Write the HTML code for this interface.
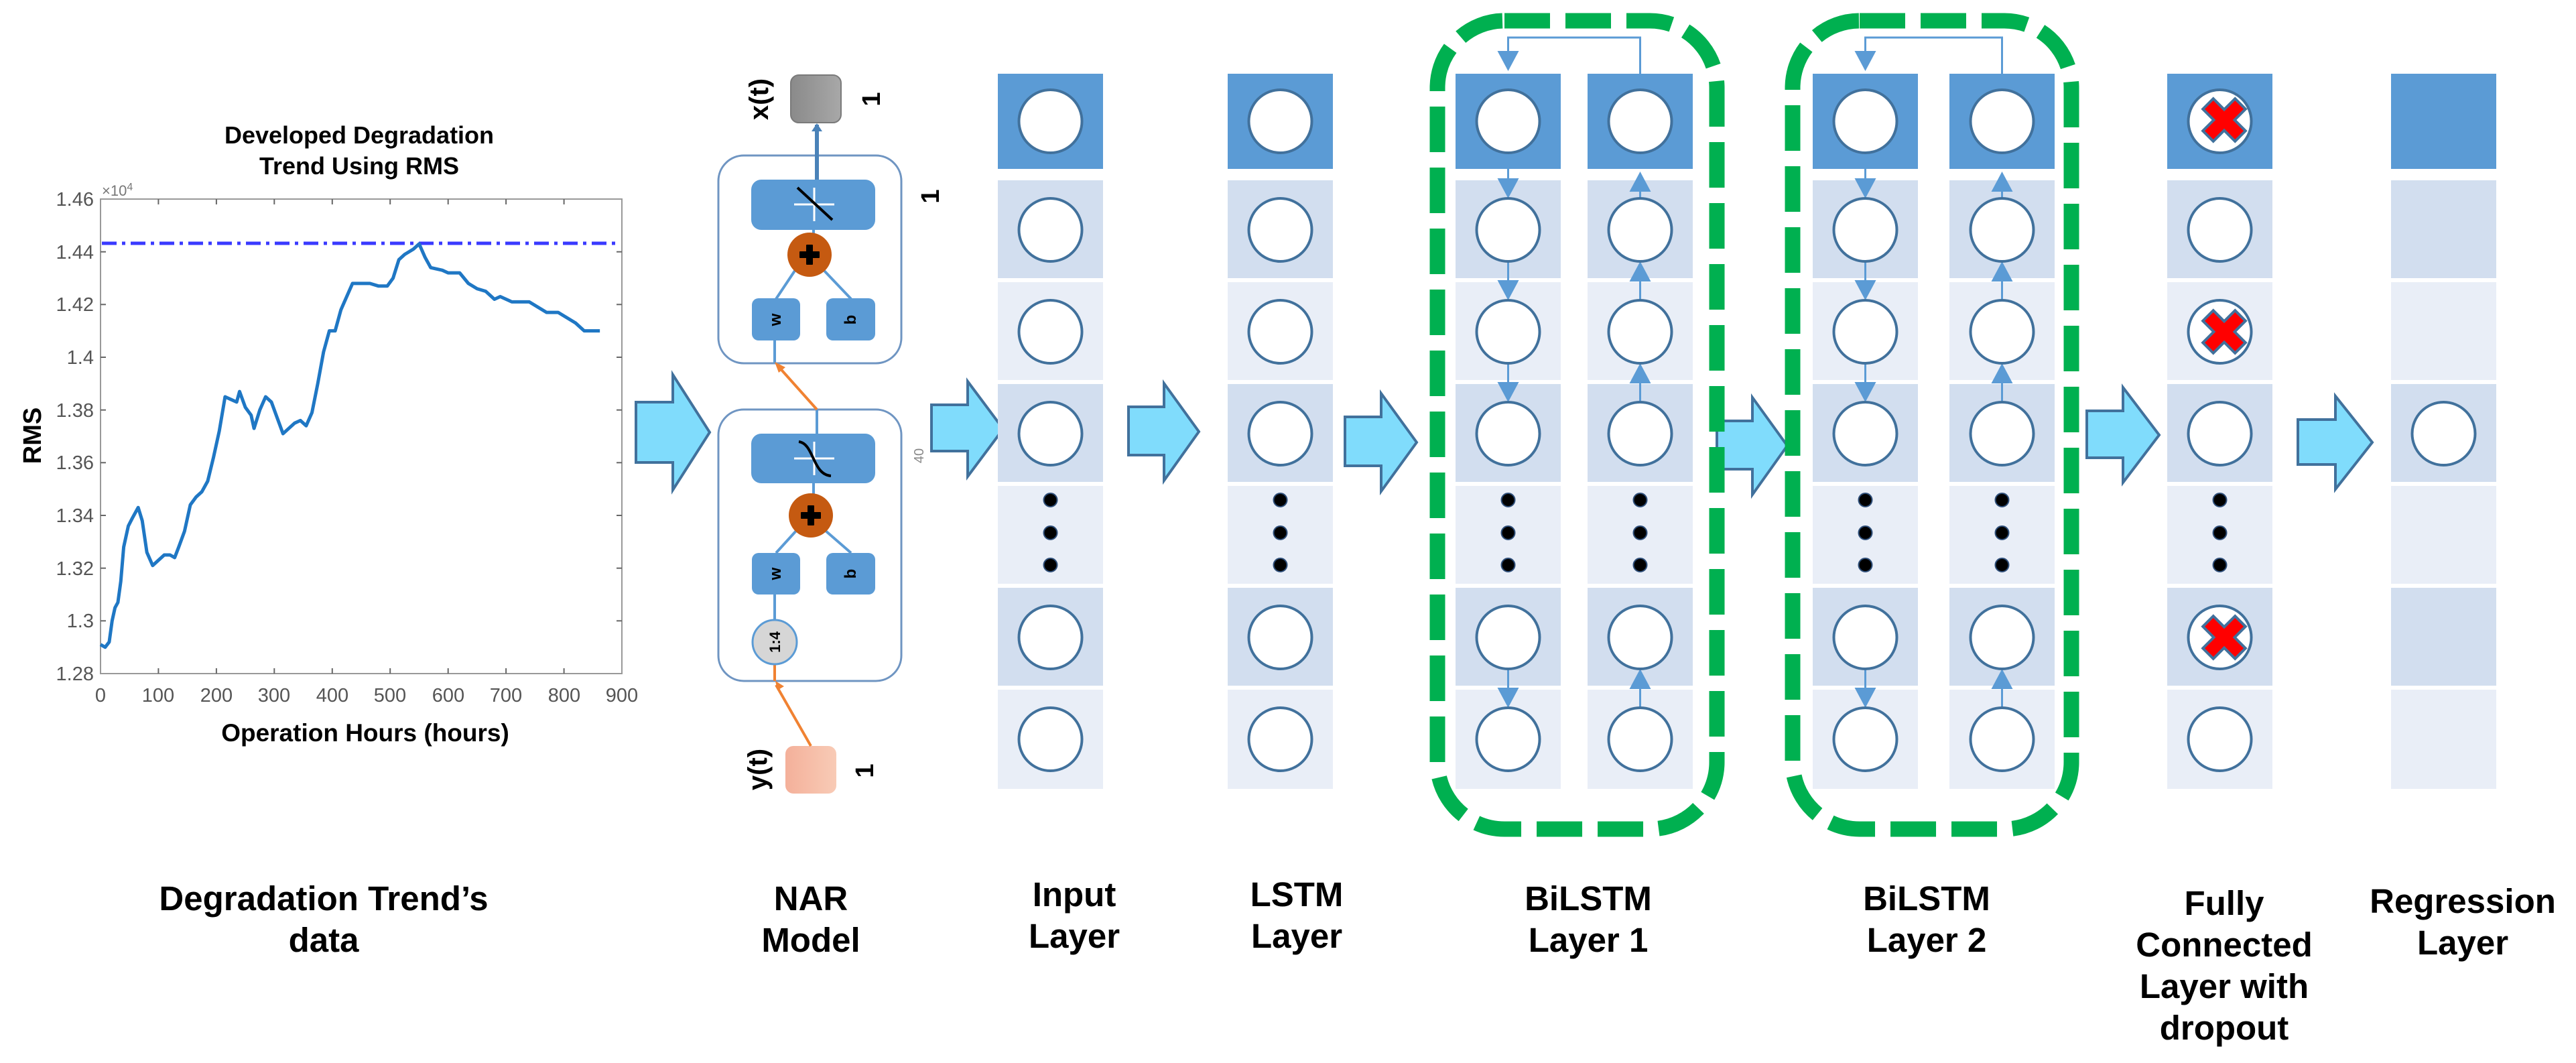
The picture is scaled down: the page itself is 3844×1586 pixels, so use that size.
<!DOCTYPE html>
<html><head><meta charset="utf-8"><style>
html,body{margin:0;padding:0;background:#fff;}
svg{display:block;}
text{font-family:"Liberation Sans",Arial,sans-serif;}
.lb{font-weight:bold;font-size:51px;fill:#000;text-anchor:middle;}
.tk{font-size:29px;fill:#555;}
</style></head><body>
<svg width="3844" height="1586" viewBox="0 0 3844 1586" xmlns="http://www.w3.org/2000/svg">
<defs>
<linearGradient id="gx" x1="0" x2="1"><stop offset="0" stop-color="#8a8a8a"/><stop offset="1" stop-color="#a8a8a8"/></linearGradient>
<linearGradient id="gy" x1="0" x2="1"><stop offset="0" stop-color="#f4b09a"/><stop offset="1" stop-color="#f8cbb6"/></linearGradient>
<g id="col">
<rect x="0" y="110" width="157" height="142" fill="#5b9bd5"/>
<rect x="0" y="269" width="157" height="146" fill="#d2deef"/>
<rect x="0" y="421" width="157" height="146" fill="#e9eef7"/>
<rect x="0" y="573" width="157" height="146" fill="#d2deef"/>
<rect x="0" y="725" width="157" height="146" fill="#e9eef7"/>
<rect x="0" y="877" width="157" height="146" fill="#d2deef"/>
<rect x="0" y="1029" width="157" height="148" fill="#e9eef7"/>
</g>
<g id="nodes" fill="#fff" stroke="#41719c" stroke-width="4">
<circle cx="78.5" cy="181" r="47"/>
<circle cx="78.5" cy="343" r="47"/>
<circle cx="78.5" cy="495" r="47"/>
<circle cx="78.5" cy="647" r="47"/>
<circle cx="78.5" cy="951" r="47"/>
<circle cx="78.5" cy="1103" r="47"/>
<g fill="#000" stroke="#2f4f7a" stroke-width="2"><circle cx="78.5" cy="746" r="10"/><circle cx="78.5" cy="795" r="10"/><circle cx="78.5" cy="843" r="10"/></g>
</g>
<g id="down" stroke="#5b9bd5" stroke-width="3" fill="#5b9bd5">
<line x1="78.5" y1="228" x2="78.5" y2="272"/><polygon points="62.5,266 94.5,266 78.5,296" stroke="none"/>
<line x1="78.5" y1="390" x2="78.5" y2="424"/><polygon points="62.5,418 94.5,418 78.5,448" stroke="none"/>
<line x1="78.5" y1="542" x2="78.5" y2="576"/><polygon points="62.5,570 94.5,570 78.5,600" stroke="none"/>
<line x1="78.5" y1="998" x2="78.5" y2="1032"/><polygon points="62.5,1026 94.5,1026 78.5,1056" stroke="none"/>
</g>
<g id="up" stroke="#5b9bd5" stroke-width="3" fill="#5b9bd5">
<line x1="78.5" y1="296" x2="78.5" y2="280"/><polygon points="62.5,286 94.5,286 78.5,256" stroke="none"/>
<line x1="78.5" y1="448" x2="78.5" y2="414"/><polygon points="62.5,420 94.5,420 78.5,390" stroke="none"/>
<line x1="78.5" y1="600" x2="78.5" y2="566"/><polygon points="62.5,572 94.5,572 78.5,542" stroke="none"/>
<line x1="78.5" y1="1056" x2="78.5" y2="1022"/><polygon points="62.5,1028 94.5,1028 78.5,998" stroke="none"/>
</g>
<g id="xx"><g transform="rotate(45)" fill="#ff0000" stroke="#41719c" stroke-width="4"><path d="M-11,-34 H11 V-11 H34 V11 H11 V34 H-11 V11 H-34 V-11 H-11 Z"/></g></g>
</defs>

<!-- ============ Chart ============ -->
<text x="536" y="214" text-anchor="middle" font-weight="bold" font-size="36">Developed Degradation</text>
<text x="536" y="260" text-anchor="middle" font-weight="bold" font-size="36">Trend Using RMS</text>
<text x="152" y="292" font-size="22" fill="#777">×10<tspan dy="-8" font-size="16">4</tspan></text>
<rect x="150" y="297" width="778" height="708" fill="#fff" stroke="#999" stroke-width="2"/>
<g stroke="#666" stroke-width="2">
<line x1="150" y1="926.3" x2="158" y2="926.3"/><line x1="150" y1="847.7" x2="158" y2="847.7"/><line x1="150" y1="769" x2="158" y2="769"/><line x1="150" y1="690.3" x2="158" y2="690.3"/><line x1="150" y1="611.7" x2="158" y2="611.7"/><line x1="150" y1="533" x2="158" y2="533"/><line x1="150" y1="454.3" x2="158" y2="454.3"/><line x1="150" y1="375.7" x2="158" y2="375.7"/>
<line x1="928" y1="926.3" x2="920" y2="926.3"/><line x1="928" y1="847.7" x2="920" y2="847.7"/><line x1="928" y1="769" x2="920" y2="769"/><line x1="928" y1="690.3" x2="920" y2="690.3"/><line x1="928" y1="611.7" x2="920" y2="611.7"/><line x1="928" y1="533" x2="920" y2="533"/><line x1="928" y1="454.3" x2="920" y2="454.3"/><line x1="928" y1="375.7" x2="920" y2="375.7"/>
<line x1="236.4" y1="1005" x2="236.4" y2="997"/><line x1="322.9" y1="1005" x2="322.9" y2="997"/><line x1="409.3" y1="1005" x2="409.3" y2="997"/><line x1="495.8" y1="1005" x2="495.8" y2="997"/><line x1="582.2" y1="1005" x2="582.2" y2="997"/><line x1="668.7" y1="1005" x2="668.7" y2="997"/><line x1="755.1" y1="1005" x2="755.1" y2="997"/><line x1="841.6" y1="1005" x2="841.6" y2="997"/>
<line x1="236.4" y1="297" x2="236.4" y2="305"/><line x1="322.9" y1="297" x2="322.9" y2="305"/><line x1="409.3" y1="297" x2="409.3" y2="305"/><line x1="495.8" y1="297" x2="495.8" y2="305"/><line x1="582.2" y1="297" x2="582.2" y2="305"/><line x1="668.7" y1="297" x2="668.7" y2="305"/><line x1="755.1" y1="297" x2="755.1" y2="305"/><line x1="841.6" y1="297" x2="841.6" y2="305"/>
</g>
<g class="tk" text-anchor="end">
<text x="140" y="1015">1.28</text><text x="140" y="936">1.3</text><text x="140" y="858">1.32</text><text x="140" y="779">1.34</text><text x="140" y="700">1.36</text><text x="140" y="622">1.38</text><text x="140" y="543">1.4</text><text x="140" y="464">1.42</text><text x="140" y="386">1.44</text><text x="140" y="307">1.46</text>
</g>
<g class="tk" text-anchor="middle">
<text x="150" y="1047">0</text><text x="236" y="1047">100</text><text x="323" y="1047">200</text><text x="409" y="1047">300</text><text x="496" y="1047">400</text><text x="582" y="1047">500</text><text x="669" y="1047">600</text><text x="755" y="1047">700</text><text x="842" y="1047">800</text><text x="928" y="1047">900</text>
</g>
<line x1="152" y1="363" x2="926" y2="363" stroke="#3a3aff" stroke-width="5" stroke-dasharray="22 8 5 8"/>
<polyline transform="translate(150 1005) scale(0.86444 -3933.33)" vector-effect="non-scaling-stroke" fill="none" stroke="#1f77c4" stroke-width="5" stroke-linejoin="round"
points="0,0.011 8,0.010 15,0.012 20,0.020 25,0.025 30,0.027 35,0.035 40,0.048 48,0.056 55,0.059 65,0.063 72,0.058 80,0.046 90,0.041 100,0.043 110,0.045 120,0.045 128,0.044 135,0.048 145,0.054 155,0.064 165,0.067 175,0.069 185,0.073 195,0.082 205,0.092 215,0.105 225,0.104 235,0.103 240,0.107 250,0.101 260,0.098 265,0.093 275,0.100 285,0.105 295,0.103 305,0.097 315,0.091 325,0.093 335,0.095 345,0.096 355,0.094 365,0.099 375,0.110 385,0.122 395,0.130 405,0.130 415,0.138 425,0.143 435,0.148 450,0.148 465,0.148 480,0.147 495,0.147 505,0.150 515,0.157 525,0.159 540,0.161 550,0.163 560,0.158 570,0.154 590,0.153 600,0.152 620,0.152 635,0.148 650,0.146 665,0.145 680,0.142 690,0.143 710,0.141 725,0.141 740,0.141 755,0.139 770,0.137 790,0.137 805,0.135 820,0.133 835,0.130 850,0.130 862,0.130"/>
<text x="545" y="1106" text-anchor="middle" font-weight="bold" font-size="37">Operation Hours (hours)</text>
<text transform="translate(61 650) rotate(-90)" text-anchor="middle" font-weight="bold" font-size="38">RMS</text>

<!-- ============ Block arrows ============ -->
<g fill="#80dcfc" stroke="#41719c" stroke-width="4" stroke-linejoin="miter">
<path d="M949,600 H1004 V559 L1059,645 L1004,731 V690 H949 Z"/>
<path d="M1390,604 H1444 V569 L1497,640 L1444,711 V673 H1390 Z"/>
<path d="M1684,607 H1737 V572 L1789,644 L1737,717 V679 H1684 Z"/>
<path d="M2007,622 H2061 V587 L2114,660 L2061,733 V695 H2007 Z"/>
<path d="M2562,628 H2615 V593 L2667,665 L2615,738 V700 H2562 Z"/>
<path d="M3114,613 H3168 V578 L3222,649 L3168,720 V683 H3114 Z"/>
<path d="M3429,626 H3485 V591 L3540,660 L3485,730 V693 H3429 Z"/>
</g>

<!-- ============ NAR model ============ -->
<rect x="1072" y="232" width="273" height="310" rx="38" fill="#fff" stroke="#6f95c2" stroke-width="3"/>
<rect x="1072" y="611" width="273" height="405" rx="38" fill="#fff" stroke="#6f95c2" stroke-width="3"/>
<line x1="1219" y1="268" x2="1219" y2="186" stroke="#4a82b8" stroke-width="6"/>
<polygon points="1211,196 1227,196 1219,184" fill="#4a82b8"/>
<rect x="1180" y="112" width="75" height="71" rx="12" fill="url(#gx)" stroke="#7a7a7a" stroke-width="2"/>
<rect x="1172" y="1113" width="76" height="71" rx="12" fill="url(#gy)"/>
<g stroke="#5b9bd5" stroke-width="4">
<line x1="1214" y1="343" x2="1214" y2="360"/><line x1="1186" y1="404" x2="1158" y2="446"/><line x1="1230" y1="404" x2="1270" y2="446"/>
<line x1="1214" y1="721" x2="1214" y2="740"/><line x1="1188" y1="792" x2="1158" y2="825"/><line x1="1232" y1="792" x2="1270" y2="825"/>
<line x1="1156" y1="887" x2="1156" y2="925"/><line x1="1156" y1="508" x2="1156" y2="542"/><line x1="1219" y1="611" x2="1219" y2="647"/>
</g>
<g stroke="#f08232" stroke-width="4" fill="none">
<line x1="1219" y1="611" x2="1160" y2="545"/><line x1="1210" y1="1113" x2="1158" y2="1022"/><line x1="1156" y1="991" x2="1156" y2="1016"/>
</g>
<polygon points="1156,540 1172,548 1162,556" fill="#f08232"/>
<polygon points="1157,1016 1170,1024 1160,1030" fill="#f08232"/>
<rect x="1121" y="268" width="185" height="75" rx="15" fill="#5b9bd5"/>
<g stroke="#fff" stroke-width="3"><line x1="1185" y1="305" x2="1245" y2="305"/><line x1="1215" y1="280" x2="1215" y2="330"/></g>
<line x1="1190" y1="280" x2="1242" y2="328" stroke="#000" stroke-width="4"/>
<rect x="1121" y="647" width="185" height="74" rx="15" fill="#5b9bd5"/>
<g stroke="#fff" stroke-width="3"><line x1="1185" y1="684" x2="1245" y2="684"/><line x1="1215" y1="659" x2="1215" y2="709"/></g>
<path d="M1192,659 C1215,662 1212,708 1240,710" stroke="#000" stroke-width="4" fill="none"/>
<g fill="#c55a11"><circle cx="1208" cy="380" r="33"/><circle cx="1210" cy="769" r="33"/></g>
<g fill="#000"><rect x="1203" y="365" width="10" height="30" rx="1"/><rect x="1193" y="375" width="30" height="10" rx="1"/><rect x="1205" y="754" width="10" height="30" rx="1"/><rect x="1195" y="764" width="30" height="10" rx="1"/></g>
<g fill="#5b9bd5">
<rect x="1122" y="445" width="72" height="63" rx="10"/><rect x="1233" y="445" width="73" height="63" rx="10"/>
<rect x="1122" y="825" width="72" height="62" rx="10"/><rect x="1233" y="825" width="73" height="62" rx="10"/>
</g>
<circle cx="1156" cy="958" r="33" fill="#d6d6d6" stroke="#5b9bd5" stroke-width="3"/>
<g font-weight="bold" text-anchor="middle" fill="#000">
<text transform="translate(1165 477) rotate(-90)" font-size="24">w</text>
<text transform="translate(1277 477) rotate(-90)" font-size="24">b</text>
<text transform="translate(1165 856) rotate(-90)" font-size="24">w</text>
<text transform="translate(1277 856) rotate(-90)" font-size="24">b</text>
<text transform="translate(1164 958) rotate(-90)" font-size="22">1:4</text>
<text transform="translate(1146 148) rotate(-90)" font-size="40">x(t)</text>
<text transform="translate(1313 148) rotate(-90)" font-size="38">1</text>
<text transform="translate(1401 293) rotate(-90)" font-size="38">1</text>
<text transform="translate(1144 1148) rotate(-90)" font-size="40">y(t)</text>
<text transform="translate(1303 1150) rotate(-90)" font-size="38">1</text>
</g>
<text transform="translate(1378 680) rotate(-90)" text-anchor="middle" font-size="20" fill="#888">40</text>

<!-- ============ Columns ============ -->
<use href="#col" x="1489"/><use href="#nodes" x="1489"/>
<use href="#col" x="1832"/><use href="#nodes" x="1832"/>
<use href="#col" x="2172"/><use href="#down" x="2172"/><use href="#nodes" x="2172"/>
<use href="#col" x="2369"/><use href="#up" x="2369"/><use href="#nodes" x="2369"/>
<use href="#col" x="2705"/><use href="#down" x="2705"/><use href="#nodes" x="2705"/>
<use href="#col" x="2909"/><use href="#up" x="2909"/><use href="#nodes" x="2909"/>
<use href="#col" x="3234"/><use href="#nodes" x="3234"/>
<use href="#xx" x="3319" y="179"/><use href="#xx" x="3319" y="495"/><use href="#xx" x="3319" y="951"/>
<use href="#col" x="3568"/>
<circle cx="3646.5" cy="647" r="47" fill="#fff" stroke="#41719c" stroke-width="4"/>

<!-- feedback lines -->
<g stroke="#5b9bd5" stroke-width="3" fill="none">
<polyline points="2447.5,110 2447.5,56 2250.5,56 2250.5,84"/>
<polyline points="2987.5,110 2987.5,56 2783.5,56 2783.5,84"/>
</g>
<g fill="#5b9bd5"><polygon points="2234.5,76 2266.5,76 2250.5,106"/><polygon points="2767.5,76 2799.5,76 2783.5,106"/></g>

<!-- green dashed boxes -->
<g fill="none" stroke="#00b050" stroke-width="23" stroke-dasharray="68 23">
<rect x="2145" y="31" width="417" height="1206" rx="100"/>
<rect x="2675" y="31" width="416" height="1206" rx="100"/>
</g>

<!-- ============ Labels ============ -->
<g class="lb">
<text x="483" y="1358">Degradation Trend’s</text><text x="483" y="1420">data</text>
<text x="1210" y="1358">NAR</text><text x="1210" y="1420">Model</text>
<text x="1603" y="1352">Input</text><text x="1603" y="1414">Layer</text>
<text x="1935" y="1352">LSTM</text><text x="1935" y="1414">Layer</text>
<text x="2370" y="1358">BiLSTM</text><text x="2370" y="1420">Layer 1</text>
<text x="2875" y="1358">BiLSTM</text><text x="2875" y="1420">Layer 2</text>
<text x="3319" y="1365">Fully</text><text x="3319" y="1427">Connected</text><text x="3319" y="1489">Layer with</text><text x="3319" y="1551">dropout</text>
<text x="3675" y="1362">Regression</text><text x="3675" y="1424">Layer</text>
</g>
</svg>
</body></html>
